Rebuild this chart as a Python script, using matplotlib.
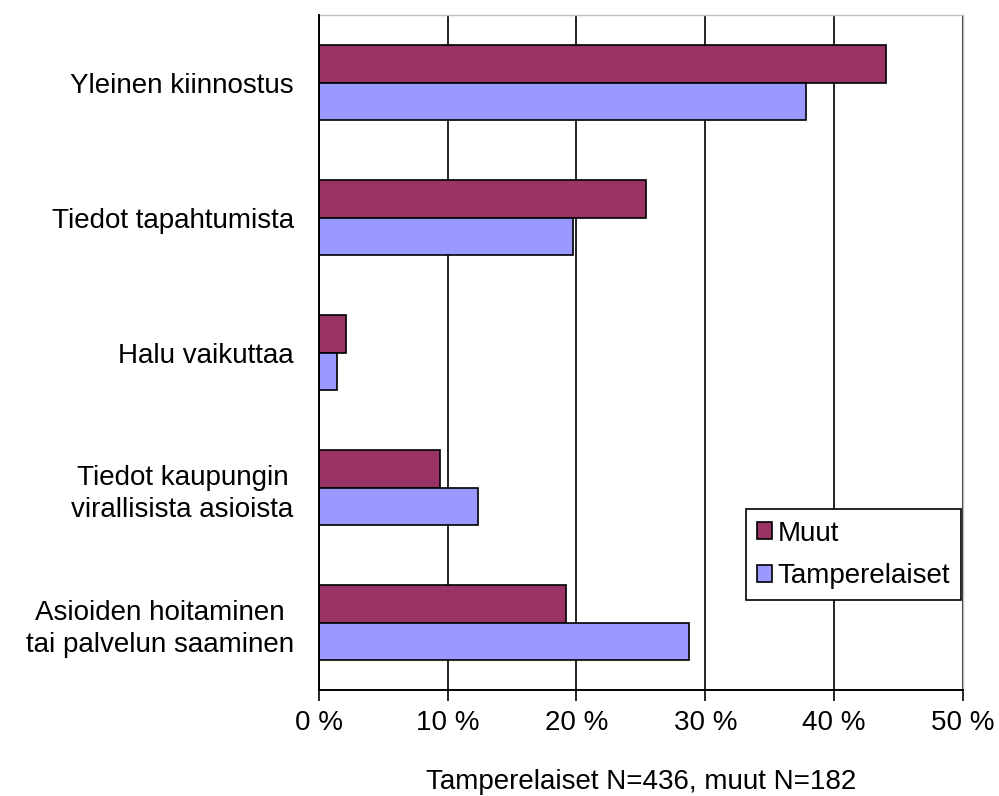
import numpy as np
import matplotlib
matplotlib.use("Agg")
import matplotlib.pyplot as plt
from matplotlib.ticker import FuncFormatter

plt.rcParams['font.family'] = ['Liberation Sans', 'DejaVu Sans']

categories = [
    "Yleinen kiinnostus",
    "Tiedot tapahtumista",
    "Halu vaikuttaa",
    "Tiedot kaupungin\nvirallisista asioista",
    "Asioiden hoitaminen\ntai palvelun saaminen",
]
muut = [44.0, 25.4, 2.1, 9.4, 19.2]
tamperelaiset = [37.8, 19.7, 1.4, 12.4, 28.7]
x_ticks = [0, 10, 20, 30, 40, 50]

fig = plt.figure(figsize=(9.99, 7.96), dpi=100)
ax = fig.add_axes([0.319, 0.133, 0.645, 0.848])

y = np.arange(len(categories))
h = 0.28
ax.barh(y - h / 2, muut, height=h, color="#993366", edgecolor="black", linewidth=1.2, label="Muut", zorder=3)
ax.barh(y + h / 2, tamperelaiset, height=h, color="#9999FF", edgecolor="black", linewidth=1.2,
        label="Tamperelaiset", zorder=3)

ax.set_xlim(0, 50)
ax.set_ylim(len(categories) - 0.5, -0.5)
ax.set_xticks(x_ticks)
ax.xaxis.set_major_formatter(FuncFormatter(lambda v, p: f"{int(v)} %"))
ax.set_yticks(y)
ax.set_yticklabels(categories, multialignment="center", linespacing=1.3)
ax.tick_params(axis="y", length=0, pad=18, labelsize=20)
ax.tick_params(axis="x", length=8, width=1.2, direction="out", pad=6, labelsize=20)

ax.grid(axis="x", color="black", linewidth=1.2, zorder=0)
for s in ["top", "right"]:
    ax.spines[s].set_color("#c0c0c0")
    ax.spines[s].set_linewidth(1)
for s in ["left", "bottom"]:
    ax.spines[s].set_color("black")
    ax.spines[s].set_linewidth(1.4)
ax.spines["left"].set_zorder(4)

ax.set_xlabel("Tamperelaiset N=436, muut N=182", fontsize=20, labelpad=24)

leg = ax.legend(loc="lower right", bbox_to_anchor=(0.997, 0.133), fontsize=20, frameon=True,
                fancybox=False, edgecolor="black", framealpha=1, handlelength=0.55, handleheight=0.55,
                handletextpad=0.2, borderpad=0.4, labelspacing=0.6, borderaxespad=0)
leg.get_frame().set_linewidth(1.2)
leg.set_zorder(5)

plt.savefig("out.png", dpi=100)
